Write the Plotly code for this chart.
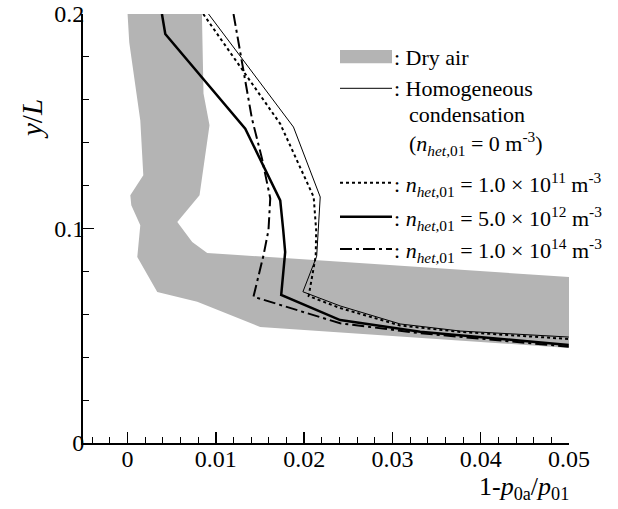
import plotly.graph_objects as go

# ---- data ----
dry_x = [0.0, 0.00842, 0.00860, 0.00928, 0.00815, 0.00563, 0.00732, 0.00902, 0.0500,
         0.0500, 0.01502, 0.00789, 0.00336, 0.00110, 0.00144, 0.00042, 0.00031, 0.00178,
         0.00144, 0.00019, 0.0]
dry_y = [0.2, 0.2, 0.1629, 0.1481, 0.1155, 0.1030, 0.0937, 0.0886, 0.0774,
         0.0443, 0.0541, 0.0658, 0.0704, 0.0867, 0.1015, 0.1108, 0.1155, 0.1248,
         0.1504, 0.1867, 0.2]

homo_x = [0.00917, 0.01879, 0.02182, 0.02142, 0.01986, 0.02408, 0.03087, 0.03767, 0.04997]
homo_y = [0.2, 0.1473, 0.1147, 0.0871, 0.0705, 0.0639, 0.0555, 0.0522, 0.0494]

n11_x = [0.00857, 0.01729, 0.02108, 0.02136, 0.02131, 0.02051, 0.02408, 0.03087, 0.03767, 0.04997]
n11_y = [0.2, 0.1488, 0.1147, 0.0992, 0.0871, 0.0685, 0.0629, 0.0548, 0.0518, 0.0485]

n12_x = [0.00389, 0.00427, 0.01333, 0.01729, 0.01763, 0.01785, 0.01740, 0.02408, 0.03314, 0.04997]
n12_y = [0.2, 0.1907, 0.1465, 0.1131, 0.0992, 0.0890, 0.0690, 0.0573, 0.0519, 0.0457]

n14_x = [0.0120, 0.01408, 0.01522, 0.01616, 0.01596, 0.01540, 0.01426, 0.02408, 0.03314, 0.04997]
n14_y = [0.2, 0.1513, 0.1327, 0.1141, 0.0992, 0.0876, 0.0682, 0.0558, 0.0512, 0.0449]

x_ticks = [0, 0.01, 0.02, 0.03, 0.04, 0.05]
x_tick_labels = ["0", "0.01", "0.02", "0.03", "0.04", "0.05"]
y_ticks = [0, 0.1, 0.2]
y_tick_labels = ["0", "0.1", "0.2"]

FONT = "Liberation Serif, Times New Roman, serif"
GRAY = "#b4b4b4"

fig = go.Figure()
fig.add_trace(go.Scatter(x=dry_x, y=dry_y, fill="toself", fillcolor=GRAY,
                         line=dict(width=0, color=GRAY), mode="lines", hoverinfo="skip"))
fig.add_trace(go.Scatter(x=homo_x, y=homo_y, mode="lines", line=dict(color="black", width=1)))
fig.add_trace(go.Scatter(x=n11_x, y=n11_y, mode="lines",
                         line=dict(color="black", width=2, dash="3px,3px")))
fig.add_trace(go.Scatter(x=n12_x, y=n12_y, mode="lines", line=dict(color="black", width=2.5)))
fig.add_trace(go.Scatter(x=n14_x, y=n14_y, mode="lines",
                         line=dict(color="black", width=2, dash="12px,4px,3px,4px")))

axis_common = dict(showgrid=False, zeroline=False, showline=True, linecolor="black", linewidth=2,
                   ticks="inside", ticklen=11, tickwidth=1.5, tickcolor="black", automargin=False,
                   ticklabeloverflow="allow",
                   tickfont=dict(family=FONT, size=24, color="black"), mirror=False)
fig.update_xaxes(range=[-0.00505, 0.05], tickvals=x_ticks, ticktext=x_tick_labels,
                 ticklabelstandoff=-7,
                 minor=dict(dtick=0.002, tick0=0, ticks="inside", ticklen=6, tickwidth=1,
                            tickcolor="black"), **axis_common)
fig.update_yaxes(range=[0, 0.2], tickvals=y_ticks, ticktext=y_tick_labels,
                 ticklabelstandoff=-8,
                 minor=dict(dtick=0.02, tick0=0, ticks="inside", ticklen=6, tickwidth=1,
                            tickcolor="black"), **axis_common)

# ---- legend drawn by hand (paper coords; page pixels -> plot fraction) ----
def px2x(px):
    return (px - 83) / 486.0

def py2y(py):
    return (443 - py) / 429.0

x0, x1 = px2x(340), px2x(392)
shapes = [
    dict(type="rect", xref="paper", yref="paper", x0=x0, x1=x1, y0=py2y(63.3), y1=py2y(50),
         fillcolor=GRAY, line=dict(width=0)),
    dict(type="line", xref="paper", yref="paper", x0=x0, x1=x1, y0=py2y(88.3), y1=py2y(88.3),
         line=dict(color="black", width=1)),
    dict(type="line", xref="paper", yref="paper", x0=x0, x1=x1, y0=py2y(182.7), y1=py2y(182.7),
         line=dict(color="black", width=2, dash="3px,3px")),
    dict(type="line", xref="paper", yref="paper", x0=x0, x1=x1, y0=py2y(216.7), y1=py2y(216.7),
         line=dict(color="black", width=2.5)),
    dict(type="line", xref="paper", yref="paper", x0=x0, x1=x1, y0=py2y(249), y1=py2y(249),
         line=dict(color="black", width=2, dash="12px,4px,3px,4px")),
]
fig.update_layout(shapes=shapes)

nhet = "<i>n</i><sub><i>het</i>,01</sub>"
texts = [
    (392, 57, ": Dry air"),
    (392, 88, ": Homogeneous"),
    (407, 114, "condensation"),
    (407, 143, "(" + nhet + " = 0 m<sup>-3</sup>)"),
    (392, 184, ": " + nhet + " = 1.0 × 10<sup>11</sup> m<sup>-3</sup>"),
    (392, 218, ": " + nhet + " = 5.0 × 10<sup>12</sup> m<sup>-3</sup>"),
    (392, 250, ": " + nhet + " = 1.0 × 10<sup>14</sup> m<sup>-3</sup>"),
]
annotations = []
for px, py, t in texts:
    annotations.append(dict(x=px2x(px), y=py2y(py), xref="paper", yref="paper", text=t,
                            showarrow=False, xanchor="left", yanchor="middle",
                            font=dict(family=FONT, size=22, color="black")))
annotations.append(dict(x=px2x(32), y=py2y(119), xref="paper", yref="paper",
                        text="<i>y</i>/<i>L</i>", showarrow=False, textangle=-90,
                        xanchor="center", yanchor="middle",
                        font=dict(family=FONT, size=29, color="black")))
annotations.append(dict(x=px2x(571), y=py2y(488), xref="paper", yref="paper",
                        text="1-<i>p</i><sub>0a</sub>/<i>p</i><sub>01</sub>", showarrow=False,
                        xanchor="right", yanchor="middle",
                        font=dict(family=FONT, size=26, color="black")))
fig.update_layout(annotations=annotations)

fig.update_layout(width=618, height=509, margin=dict(l=83, r=49, t=14, b=66, autoexpand=False),
                  plot_bgcolor="white", paper_bgcolor="white", showlegend=False,
                  hovermode=False, font=dict(family=FONT, color="black"))

# remove the page's default body margin so the figure sits at the window's corner
fig.write_html("out.html", config={"displayModeBar": False, "staticPlot": True},
               post_script="document.body.style.margin='0';")
